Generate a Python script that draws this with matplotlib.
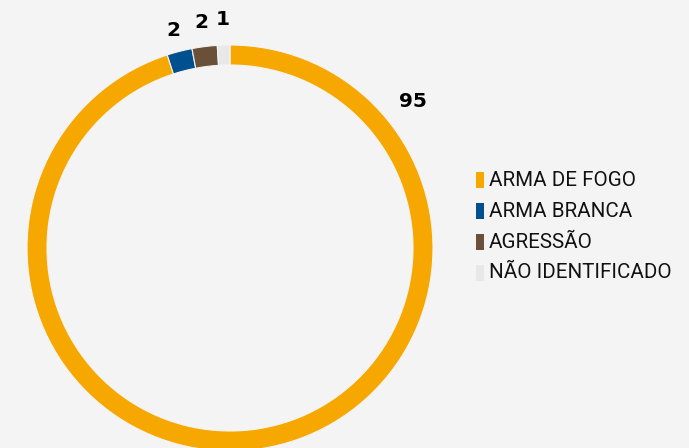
import numpy as np
import matplotlib
matplotlib.use("Agg")
import matplotlib.pyplot as plt
from matplotlib.patches import Rectangle

# data
categories = ["ARMA DE FOGO", "ARMA BRANCA", "AGRESSÃO", "NÃO IDENTIFICADO"]
values = [95, 2, 2, 1]
colors = ["#f7a800", "#004f8f", "#6b5039", "#e8e8e8"]

BG = "#f4f4f4"
W, H = 689, 448

fig = plt.figure(figsize=(W / 100, H / 100), dpi=100, facecolor=BG)
ax = fig.add_axes([0, 0, 1, 1])
ax.set_facecolor(BG)

cx, cy, r = 230, H - 248, 203
wedges, _ = ax.pie(values, colors=colors, center=(cx, cy), radius=r,
                   startangle=90, counterclock=False,
                   wedgeprops=dict(width=20, edgecolor=BG, linewidth=0.8))

ax.set_xlim(0, W)
ax.set_ylim(0, H)
ax.set_aspect("equal")
ax.axis("off")

# value labels
num_font = dict(fontsize=14.5, fontweight="bold", color="black",
                ha="center", va="center", family="DejaVu Sans")
for i, (w, v) in enumerate(zip(wedges, values)):
    if i == 0:
        ang = np.deg2rad(39)
        rr = 235
    else:
        ang = np.deg2rad((w.theta1 + w.theta2) / 2)
        rr = 224 + 2 * i
    ax.text(cx + rr * np.cos(ang), cy + rr * np.sin(ang) - 1, str(v), **num_font)

# legend
leg_x, leg_y0, step = 476, 180, 31
for i, (name, c) in enumerate(zip(categories, colors)):
    y = H - (leg_y0 + i * step)
    ax.add_patch(Rectangle((leg_x, y - 8), 8, 16, color=c, lw=0))
    ax.text(leg_x + 13, y, name, fontsize=14.8, va="center", ha="left",
            color="#111111", family=["Roboto", "DejaVu Sans"])

fig.savefig("out.png", dpi=100, facecolor=BG)
